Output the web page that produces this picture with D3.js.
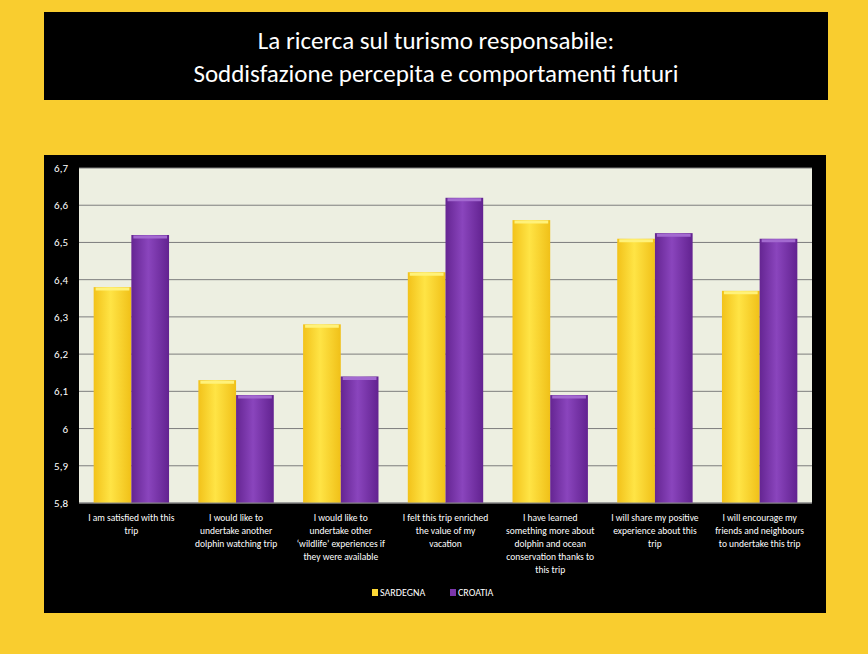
<!DOCTYPE html>
<html><head><meta charset="utf-8">
<script src="https://cdn.jsdelivr.net/npm/d3@7"></script>
<style>
body{margin:0;background:#f9cd2f;font-family:Calibri,Carlito,"Open Sans",sans-serif;}
</style></head><body>
<svg id="chart" width="868" height="654"></svg>
<script>
const categories = [
  ["I am satisfied with this", "trip"],
  ["I would like to", "undertake another", "dolphin watching trip"],
  ["I would like to", "undertake other", "\u2018wildlife\u2019 experiences if", "they were available"],
  ["I felt this trip enriched", "the value of my", "vacation"],
  ["I have learned", "something more about", "dolphin and ocean", "conservation thanks to", "this trip"],
  ["I will share my positive", "experience about this", "trip"],
  ["I will encourage my", "friends and neighbours", "to undertake this trip"]
];
const sardegna = [6.38, 6.13, 6.28, 6.42, 6.56, 6.51, 6.37];
const croatia = [6.52, 6.09, 6.14, 6.62, 6.09, 6.525, 6.51];
const yTicks = [5.8, 5.9, 6, 6.1, 6.2, 6.3, 6.4, 6.5, 6.6, 6.7];
const seriesNames = ["SARDEGNA", "CROATIA"];
const colors = ["#fdd835", "#7a35aa"];

const svg = d3.select('#chart');
const defs = svg.append('defs');
[["gy", "#f2c21a", "#ffe445", "#f0c018"], ["gp", "#652592", "#8a45bd", "#622290"]].forEach(([id, a, b, c]) => {
  const g = defs.append('linearGradient').attr('id', id);
  g.append('stop').attr('offset', '0%').attr('stop-color', a);
  g.append('stop').attr('offset', '45%').attr('stop-color', b);
  g.append('stop').attr('offset', '100%').attr('stop-color', c);
});

// title box
svg.append('rect').attr('x', 44).attr('y', 12).attr('width', 784).attr('height', 88).attr('fill', '#000');
svg.append('text').attr('x', 436).attr('y', 49).attr('text-anchor', 'middle').attr('fill', '#fff')
  .attr('font-size', 25).text('La ricerca sul turismo responsabile:');
svg.append('text').attr('x', 436).attr('y', 82).attr('text-anchor', 'middle').attr('fill', '#fff')
  .attr('font-size', 25).text('Soddisfazione percepita e comportamenti futuri');

// chart box
svg.append('rect').attr('x', 44).attr('y', 155).attr('width', 782).attr('height', 458).attr('fill', '#000');

const pad = { left: 79, right: 812, top: 168, bottom: 503 };
const x = d3.scaleBand().domain(d3.range(categories.length)).range([pad.left, pad.right]).paddingInner(0.28).paddingOuter(0.14);
const y = d3.scaleLinear().domain([5.8, 6.7]).range([pad.bottom, pad.top]);

svg.append('rect').attr('x', pad.left).attr('y', pad.top).attr('width', pad.right - pad.left)
  .attr('height', pad.bottom - pad.top).attr('fill', '#edefe1');

svg.append('g').selectAll('line').data(yTicks).join('line')
  .attr('x1', pad.left).attr('x2', pad.right).attr('y1', d => y(d)).attr('y2', d => y(d))
  .attr('stroke', '#7d7d7d').attr('stroke-width', 1);

const fmt = d => String(d).replace('.', ',');
svg.append('g').selectAll('text').data(yTicks).join('text')
  .attr('x', 68).attr('y', d => y(d) + 4).attr('text-anchor', 'end').attr('fill', '#fff')
  .attr('font-size', 11).text(fmt);

const bw = x.bandwidth() / 2;
[sardegna, croatia].forEach((vals, s) => {
  const g = svg.append('g');
  g.selectAll('rect').data(vals).join('rect')
    .attr('x', (d, i) => x(i) + s * bw).attr('y', d => y(d))
    .attr('width', bw).attr('height', d => y(5.8) - y(d))
    .attr('fill', s ? 'url(#gp)' : 'url(#gy)');
  g.selectAll('line').data(vals).join('line')
    .attr('x1', (d, i) => x(i) + s * bw + 2).attr('x2', (d, i) => x(i) + (s + 1) * bw - 2)
    .attr('y1', d => y(d) + 2).attr('y2', d => y(d) + 2)
    .attr('stroke', s ? '#a36ad0' : '#fff27a').attr('stroke-width', 3);
});

svg.append('line').attr('x1', pad.left).attr('x2', pad.right).attr('y1', pad.bottom).attr('y2', pad.bottom)
  .attr('stroke', '#888');

categories.forEach((lines, i) => {
  const t = svg.append('text').attr('text-anchor', 'middle').attr('fill', '#fff').attr('font-size', 9.5)
    .attr('x', x(i) + x.bandwidth() / 2).attr('y', 521);
  lines.forEach((l, k) => t.append('tspan').attr('x', x(i) + x.bandwidth() / 2).attr('dy', k ? 13 : 0).text(l));
});

// legend
const leg = svg.append('g').attr('transform', 'translate(372,596)');
seriesNames.forEach((n, i) => {
  const gx = i * 78;
  leg.append('rect').attr('x', gx).attr('y', -7).attr('width', 6).attr('height', 7).attr('fill', colors[i]);
  leg.append('text').attr('x', gx + 8).attr('y', 0).attr('fill', '#fff').attr('font-size', 10).text(n);
});
</script>
</body></html>
